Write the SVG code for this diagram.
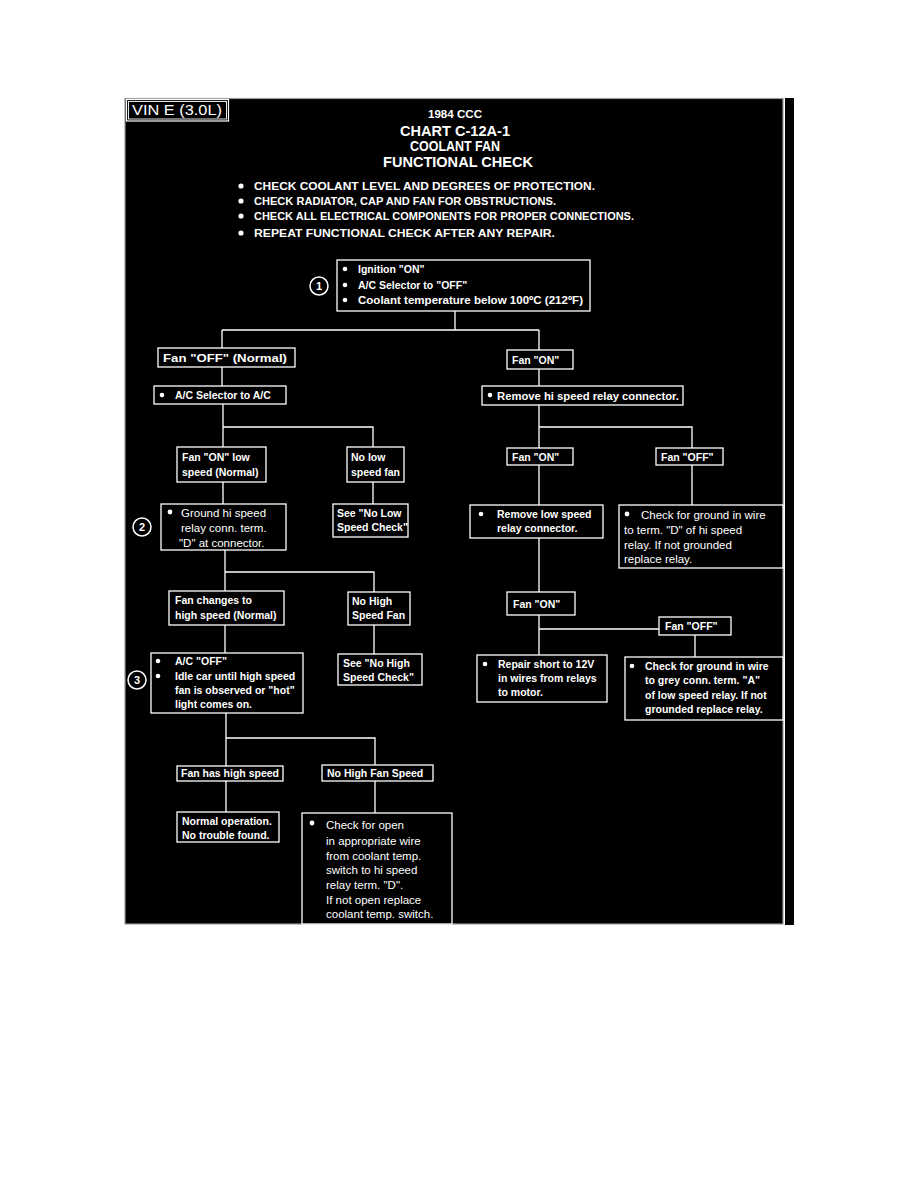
<svg xmlns="http://www.w3.org/2000/svg" width="918" height="1188" viewBox="0 0 918 1188">
<style>
.bg{fill:#000;stroke:#9a9a9a;stroke-width:1.2}
.box{fill:#000;stroke:#fff;stroke-width:1.3}
.t{fill:#fff;font-family:"Liberation Sans",Arial,sans-serif;font-size:10.5px;font-weight:bold}
.r{fill:#fff;font-family:"Liberation Sans",Arial,sans-serif;font-size:11.5px}
.h{fill:#fff;font-family:"Liberation Sans",Arial,sans-serif;font-weight:bold;text-anchor:middle}
.c{fill:none;stroke:#fff;stroke-width:1.3}
.d{fill:#fff}
.n{fill:#fff;font-family:"Liberation Sans",Arial,sans-serif;font-size:11px;font-weight:bold;text-anchor:middle}
</style>
<rect x="0" y="0" width="918" height="1188" fill="#fff"/>
<rect class="bg" x="125" y="98.5" width="658" height="825.5"/>
<rect x="785" y="98" width="9" height="827" fill="#000"/>

<g id="vin">
<rect x="126.5" y="99.5" width="102" height="21.5" fill="#000" stroke="#fff" stroke-width="1.2"/>
<rect x="128.5" y="101.5" width="98" height="17.5" fill="none" stroke="#fff" stroke-width="0.9"/>
<text x="132" y="115" fill="#fff" font-family="Liberation Sans,Arial,sans-serif" font-size="14px" textLength="90" lengthAdjust="spacingAndGlyphs">VIN E (3.0L)</text>
</g>

<g id="title">
<text class="h" x="455" y="118" font-size="11px" textLength="54" lengthAdjust="spacingAndGlyphs">1984 CCC</text>
<text class="h" x="455" y="136" font-size="14.5px" textLength="110" lengthAdjust="spacingAndGlyphs">CHART C-12A-1</text>
<text class="h" x="455" y="151" font-size="14.5px" textLength="90" lengthAdjust="spacingAndGlyphs">COOLANT FAN</text>
<text class="h" x="458" y="167" font-size="14.5px" textLength="150" lengthAdjust="spacingAndGlyphs">FUNCTIONAL CHECK</text>
</g>

<g id="notes">
<circle class="d" cx="241" cy="186" r="2.6"/>
<circle class="d" cx="241" cy="201" r="2.6"/>
<circle class="d" cx="241" cy="216" r="2.6"/>
<circle class="d" cx="241" cy="233" r="2.6"/>
<text class="t" x="254" y="190" font-size="11.5px" textLength="341" lengthAdjust="spacingAndGlyphs">CHECK COOLANT LEVEL AND DEGREES OF PROTECTION.</text>
<text class="t" x="254" y="205" font-size="11.5px" textLength="302" lengthAdjust="spacingAndGlyphs">CHECK RADIATOR, CAP AND FAN FOR OBSTRUCTIONS.</text>
<text class="t" x="254" y="220" font-size="11.5px" textLength="380" lengthAdjust="spacingAndGlyphs">CHECK ALL ELECTRICAL COMPONENTS FOR PROPER CONNECTIONS.</text>
<text class="t" x="254" y="237" font-size="11.5px" textLength="301" lengthAdjust="spacingAndGlyphs">REPEAT FUNCTIONAL CHECK AFTER ANY REPAIR.</text>
</g>

<g id="connectors">
<path class="c" d="M455 311V330M222 330H539M222 330V348M539 330V350"/>
<path class="c" d="M222 367V386M539 369V386"/>
<path class="c" d="M223 404V447M223 427H373V447M373 482V504M223 482V504"/>
<path class="c" d="M539 405V448M539 427H692V448M539 465V505M692 465V505"/>
<path class="c" d="M225 550V591M225 572H374V592M225 625V653M374 625V654"/>
<path class="c" d="M539 538V592M539 615V655M539 629H659M695 635V657"/>
<path class="c" d="M226 713V766M226 738H375V765M226 781V812M375 781V813"/>
</g>

<g id="start">
<rect class="box" x="337" y="260" width="253" height="51"/>
<circle class="d" cx="345" cy="269" r="2.3"/>
<circle class="d" cx="345" cy="285" r="2.3"/>
<circle class="d" cx="345" cy="300" r="2.3"/>
<text class="t" x="358" y="273">Ignition "ON"</text>
<text class="t" x="358" y="289">A/C Selector to "OFF"</text>
<text class="t" x="358" y="304" textLength="225" lengthAdjust="spacingAndGlyphs">Coolant temperature below 100ºC (212ºF)</text>
</g>
<g id="step1">
<circle cx="319" cy="286" r="9" fill="#000" stroke="#fff" stroke-width="1.5"/>
<text class="n" x="319" y="290">1</text>
</g>

<g id="fanOffNormal">
<rect class="box" x="158" y="348" width="137" height="19"/>
<text class="t" x="163" y="362" textLength="124" lengthAdjust="spacingAndGlyphs">Fan "OFF" (Normal)</text>
</g>
<g id="fanOn1">
<rect class="box" x="507" y="350" width="66" height="19"/>
<text class="t" x="512" y="364">Fan "ON"</text>
</g>
<g id="acSelector">
<rect class="box" x="154" y="386" width="132" height="18"/>
<circle class="d" cx="162" cy="395" r="2.3"/>
<text class="t" x="175" y="399">A/C Selector to A/C</text>
</g>
<g id="removeHi">
<rect class="box" x="482" y="386" width="201" height="19"/>
<circle class="d" cx="490" cy="395" r="2.3"/>
<text class="t" x="497" y="400" textLength="182" lengthAdjust="spacingAndGlyphs">Remove hi speed relay connector.</text>
</g>

<g id="fanOnLow">
<rect class="box" x="177" y="447" width="89" height="35"/>
<text class="t" x="182" y="461">Fan "ON" low</text>
<text class="t" x="182" y="476">speed (Normal)</text>
</g>
<g id="noLow">
<rect class="box" x="347" y="447" width="57" height="35"/>
<text class="t" x="351" y="461">No low</text>
<text class="t" x="351" y="476">speed fan</text>
</g>
<g id="groundHi">
<rect class="box" x="161" y="504" width="125" height="46"/>
<circle class="d" cx="170" cy="512" r="2.4"/>
<text class="r" x="181" y="517">Ground hi speed</text>
<text class="r" x="181" y="532">relay conn. term.</text>
<text class="r" x="179" y="547">"D" at connector.</text>
</g>
<g id="step2">
<circle cx="142" cy="527" r="9" fill="#000" stroke="#fff" stroke-width="1.5"/>
<text class="n" x="142" y="531">2</text>
</g>
<g id="seeNoLow">
<rect class="box" x="333" y="504" width="75" height="33"/>
<text class="t" x="337" y="517">See "No Low</text>
<text class="t" x="337" y="531">Speed Check"</text>
</g>

<g id="fanOn2">
<rect class="box" x="507" y="448" width="66" height="17"/>
<text class="t" x="512" y="461">Fan "ON"</text>
</g>
<g id="fanOff2">
<rect class="box" x="656" y="448" width="67" height="17"/>
<text class="t" x="661" y="461">Fan "OFF"</text>
</g>
<g id="removeLow">
<rect class="box" x="470" y="505" width="133" height="33"/>
<circle class="d" cx="481" cy="514" r="2.3"/>
<text class="t" x="497" y="518">Remove low speed</text>
<text class="t" x="497" y="532">relay connector.</text>
</g>
<g id="checkGroundD">
<rect class="box" x="619" y="505" width="164" height="63"/>
<circle class="d" cx="627" cy="514" r="2.4"/>
<text class="r" x="641" y="519">Check for ground in wire</text>
<text class="r" x="624" y="534">to term. "D" of hi speed</text>
<text class="r" x="624" y="549">relay. If not grounded</text>
<text class="r" x="624" y="563">replace relay.</text>
</g>

<g id="fanChanges">
<rect class="box" x="169" y="591" width="115" height="34"/>
<text class="t" x="175" y="604">Fan changes to</text>
<text class="t" x="175" y="619">high speed (Normal)</text>
</g>
<g id="noHighFan">
<rect class="box" x="348" y="592" width="62" height="33"/>
<text class="t" x="352" y="605">No High</text>
<text class="t" x="352" y="619">Speed Fan</text>
</g>
<g id="acOff">
<rect class="box" x="151" y="653" width="152" height="60"/>
<circle class="d" cx="158" cy="661" r="2.3"/>
<circle class="d" cx="158" cy="676" r="2.3"/>
<text class="t" x="175" y="665">A/C "OFF"</text>
<text class="t" x="175" y="680">Idle car until high speed</text>
<text class="t" x="175" y="694">fan is observed or "hot"</text>
<text class="t" x="175" y="708">light comes on.</text>
</g>
<g id="step3">
<circle cx="137" cy="680" r="9" fill="#000" stroke="#fff" stroke-width="1.5"/>
<text class="n" x="137" y="684">3</text>
</g>
<g id="seeNoHigh">
<rect class="box" x="338" y="654" width="84" height="31"/>
<text class="t" x="343" y="667">See "No High</text>
<text class="t" x="343" y="681">Speed Check"</text>
</g>

<g id="fanOn3">
<rect class="box" x="507" y="592" width="68" height="23"/>
<text class="t" x="513" y="608">Fan "ON"</text>
</g>
<g id="fanOff3">
<rect class="box" x="659" y="617" width="72" height="18"/>
<text class="t" x="665" y="630">Fan "OFF"</text>
</g>
<g id="repairShort">
<rect class="box" x="477" y="655" width="130" height="47"/>
<circle class="d" cx="485" cy="664" r="2.3"/>
<text class="t" x="498" y="668">Repair short to 12V</text>
<text class="t" x="498" y="682" font-size="9.5px">in wires from relays</text>
<text class="t" x="498" y="696">to motor.</text>
</g>
<g id="checkGroundA">
<rect class="box" x="625" y="657" width="158" height="63"/>
<circle class="d" cx="632" cy="666" r="2.3"/>
<text class="t" x="645" y="670">Check for ground in wire</text>
<text class="t" x="645" y="684" font-size="9.5px">to grey conn. term. "A"</text>
<text class="t" x="645" y="699">of low speed relay. If not</text>
<text class="t" x="645" y="713">grounded replace relay.</text>
</g>

<g id="fanHasHigh">
<rect class="box" x="177" y="766" width="106" height="15"/>
<text class="t" x="181" y="777">Fan has high speed</text>
</g>
<g id="noHighFanSpeed">
<rect class="box" x="322" y="765" width="111" height="16"/>
<text class="t" x="327" y="777">No High Fan Speed</text>
</g>
<g id="normalOp">
<rect class="box" x="177" y="812" width="102" height="30"/>
<text class="t" x="182" y="825">Normal operation.</text>
<text class="t" x="182" y="839">No trouble found.</text>
</g>
<g id="checkOpen">
<rect class="box" x="302" y="813" width="150" height="111"/>
<circle class="d" cx="312" cy="823" r="2.4"/>
<text class="r" x="326" y="829">Check for open</text>
<text class="r" x="326" y="845">in appropriate wire</text>
<text class="r" x="326" y="860">from coolant temp.</text>
<text class="r" x="326" y="874">switch to hi speed</text>
<text class="r" x="326" y="889">relay term. "D".</text>
<text class="r" x="326" y="904">If not open replace</text>
<text class="r" x="326" y="918">coolant temp. switch.</text>
</g>
</svg>
